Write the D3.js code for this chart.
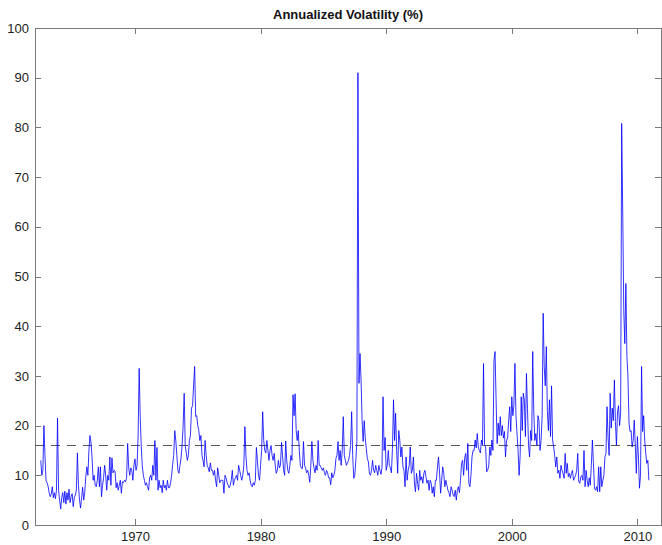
<!DOCTYPE html>
<html>
<head>
    <meta charset="utf-8">
    <title>Annualized Volatility</title>
    <style type="text/css">
        body { margin: 0; background: #fff; }
        svg { font-family: "Liberation Sans", Arial, sans-serif; }
        .axis path, .axis line { fill: none; stroke: #7a7a7a; shape-rendering: crispEdges; }
        .axis text { font-size: 13px; fill: #222; }
    </style>
</head>
<body>
<svg width="662" height="545"></svg>
<script src="https://cdnjs.cloudflare.com/ajax/libs/d3/7.8.5/d3.min.js"></script>
<script>
    /*====== DATA (monthly) ======*/
    var startYear = 1962.5;   // first point: July 1962
    var vol60s = [
        13, 10, 11, 20, 14, 9,
        8.5, 7.8, 6.5, 5.7, 6.2, 7.7, 5.5, 6.5, 5.3, 7, 21.5, 7,
        5, 3.2, 5.5, 6.5, 4.5, 6.8, 4.2, 6.5, 5, 7.2, 4.5, 5.8,
        6.3, 3.7, 5.5, 6, 7, 14.5, 8, 5, 3.4, 5.5, 7.6, 5,
        6.5, 9.7, 11.7, 10, 15, 18, 16.5, 13.5, 9, 10, 8, 7.7,
        9, 11.7, 7.7, 11.7, 5.7, 8, 9.5, 12, 10, 7, 10, 9,
        13.7, 8, 13.5, 10.5, 11, 10.8, 7.5, 8.5, 7, 8, 9, 6.4,
        8.7, 8.5, 9, 8.7, 9.5, 16.4, 11.5, 10, 11.5, 11, 9, 12
    ];
    var vol70s = [
        13.3, 11, 12, 18, 31.5, 21.8, 15.8, 11.8, 10, 9, 8, 8.5,
        7.7, 7, 9.5, 10, 9, 12, 10, 17, 9, 15.6, 7, 9,
        7.5, 8, 6.5, 9, 7.5, 8, 7, 9, 7.5, 7.5, 8.5, 10,
        12.2, 14, 19, 17, 14, 11, 10.4, 12, 13.5, 16, 20, 26.5,
        16, 14.5, 13, 14, 17, 18, 23.5, 24, 28, 31.9, 21.8, 22,
        20, 19, 17, 18, 14, 13, 11.7, 17, 14, 12, 11.5, 10.7,
        12.5, 11, 11, 10, 11, 9, 7.7, 11.5, 10, 8.5, 9, 9,
        9, 6.4, 10, 9.5, 8.5, 8, 7.5, 8, 9, 11, 8, 9,
        9.5, 10, 9, 12, 11, 10, 9, 10, 12, 19.8, 14, 11,
        10, 10.5, 9, 8, 7.7, 8.5, 8, 9, 15.6, 13, 10, 9
    ];
    var vol80s = [
        12, 15, 22.8, 17, 15, 14.5, 17, 15, 13, 15, 16, 14,
        13, 14.4, 12, 10.4, 11, 13, 11.5, 12, 16.6, 14, 11, 10,
        16.9, 13, 11, 10.4, 12, 14, 13, 26.2, 22, 26.4, 19, 17,
        19, 15, 12, 11.4, 11.4, 16.8, 12, 11.5, 10.5, 11, 10, 8.6,
        12, 16.8, 13, 11.5, 10.5, 12, 11, 17, 12, 12, 11.5, 11,
        11.5, 10.5, 10, 11, 10.5, 9.5, 9.5, 8.1, 10.5, 9.5, 10, 11,
        13.4, 14, 16.8, 13, 15, 12, 15, 21.8, 14, 13, 12, 12.5,
        13, 14, 16, 22.8, 14, 9.4, 10, 13, 16.8, 91, 28.5, 34.5,
        29, 21, 16.8, 21, 17.6, 15.4, 13.4, 12.7, 10.4, 10, 11, 13,
        11, 10.5, 12, 11, 10, 12, 11, 10.2, 11.5, 25.8, 15, 17.6
    ];
    var vol90s = [
        11, 12, 15, 12, 11.5, 10.5, 15.4, 25.2, 17, 22.5, 15, 10.4,
        19, 17.1, 13.7, 15.7, 11.7, 11, 7.7, 13.7, 9, 11, 12, 15.7,
        10.4, 11, 13.7, 8.4, 6.7, 10.4, 8.4, 7, 11, 9, 9.7, 8.4,
        10.4, 11, 9.7, 8.4, 9, 7, 9, 8.4, 6.4, 7.7, 5.7, 9,
        9, 11.7, 13.7, 10.4, 6.4, 9, 11.7, 10.4, 7.7, 9, 8, 7,
        6.5, 5.7, 7.7, 7, 6, 5.7, 7, 5, 7, 7.7, 6.5, 9,
        12.4, 13, 10, 13.5, 14.4, 11, 16.4, 8.4, 7.7, 10, 13.7, 15,
        15, 17.1, 15.5, 18.4, 15.7, 15, 14.5, 17.1, 16, 32.5, 16.2, 15.7,
        10.7, 11, 12, 15.7, 14, 17.1, 15, 33.2, 34.9, 25.2, 16.4, 20.5,
        18, 21.8, 18, 20, 17.5, 18.8, 13.7, 17, 17.5, 21, 23.8, 18.8
    ];
    var vol00s = [
        25.8, 22, 24, 32.5, 22, 18.4, 15, 10, 14, 25.8, 19, 26.5,
        25.2, 17.8, 30.5, 23.4, 16, 13.7, 19, 17, 34.9, 23, 17, 18.4,
        16, 22, 21, 15, 17, 22, 42.6, 31.9, 28, 35.9, 23, 19,
        25.2, 17.8, 28, 17.1, 15.7, 14, 11.7, 13.7, 10.4, 11, 9.4, 12,
        11, 10.4, 9.4, 14.4, 10.4, 12.4, 9.7, 10.4, 9.4, 10.4, 11, 9,
        9.5, 10, 11, 14.4, 8.7, 8.4, 9.7, 10, 9, 15, 7.7, 11,
        9, 7.7, 9.5, 8, 12, 17.1, 12.4, 7.4, 7, 7.7, 6.7, 11.7,
        6.7, 11.7, 7.7, 9, 10, 13.7, 14.4, 23.8, 17.5, 14, 26.5, 19.5,
        23.5, 21, 29.2, 20.8, 16, 22.8, 24, 20, 22.5, 80.8, 63, 43,
        36.5, 48.6, 33.9, 29.8, 20.5, 18.8, 19, 15.7, 17, 21.1, 16, 10.4
    ];
    var vol10s = [17.8, 13.7, 7.4, 10, 31.9, 18.8, 22, 17.1, 14.4, 12.4, 13, 9];

    var meanLevel = 16;
    var yearTicks = [1970, 1980, 1990, 2000, 2010];
    var volTicks = [0, 10, 20, 30, 40, 50, 60, 70, 80, 90, 100];
    var title = "Annualized Volatility (%)";

    var vol = [].concat(vol60s, vol70s, vol80s, vol90s, vol00s, vol10s);
    var series = vol.map(function(v, i) { return { t: startYear + i / 12, v: v }; });

    /*====== SIZE ======*/
    var margin = { top: 28, right: 1, bottom: 20, left: 35 };
    var width = 662 - margin.left - margin.right;
    var height = 545 - margin.top - margin.bottom;

    var x = d3.scaleLinear().domain([1962.04, 2011.88]).range([0, width]);
    var y = d3.scaleLinear().domain([0, 100]).range([height, 0]);

    var svg = d3.select("svg");
    var g = svg.append("g").attr("transform", "translate(" + margin.left + "," + margin.top + ")");

    // box + inward ticks
    g.append("g").attr("class", "axis")
        .attr("transform", "translate(0," + height + ")")
        .call(d3.axisBottom(x).tickValues(yearTicks).tickFormat(d3.format("d")).tickSizeInner(-6).tickSizeOuter(0).tickPadding(7));
    g.append("g").attr("class", "axis")
        .call(d3.axisTop(x).tickValues(yearTicks).tickSizeInner(-6).tickSizeOuter(0).tickFormat(""));
    g.append("g").attr("class", "axis")
        .call(d3.axisLeft(y).tickValues(volTicks).tickSizeInner(-6).tickSizeOuter(0).tickPadding(6));
    g.append("g").attr("class", "axis")
        .attr("transform", "translate(" + width + ",0)")
        .call(d3.axisRight(y).tickValues(volTicks).tickSizeInner(-6).tickSizeOuter(0).tickFormat(""));
    g.selectAll(".axis .domain").attr("stroke", "#7a7a7a");

    // mean level
    g.append("line")
        .attr("x1", 0).attr("x2", width)
        .attr("y1", y(meanLevel)).attr("y2", y(meanLevel))
        .attr("stroke", "#555").attr("stroke-width", 1)
        .attr("stroke-dasharray", "9,7");

    // series
    var line = d3.line().x(function(d) { return x(d.t); }).y(function(d) { return y(d.v); });
    g.append("path")
        .datum(series)
        .attr("d", line)
        .attr("fill", "none")
        .attr("stroke", "#0000ff")
        .attr("stroke-width", 0.8);

    svg.append("text")
        .attr("x", margin.left + width / 2)
        .attr("y", 19)
        .attr("text-anchor", "middle")
        .style("font-size", "13px")
        .style("font-weight", "bold")
        .attr("fill", "#111")
        .text(title);
</script>
</body>
</html>
